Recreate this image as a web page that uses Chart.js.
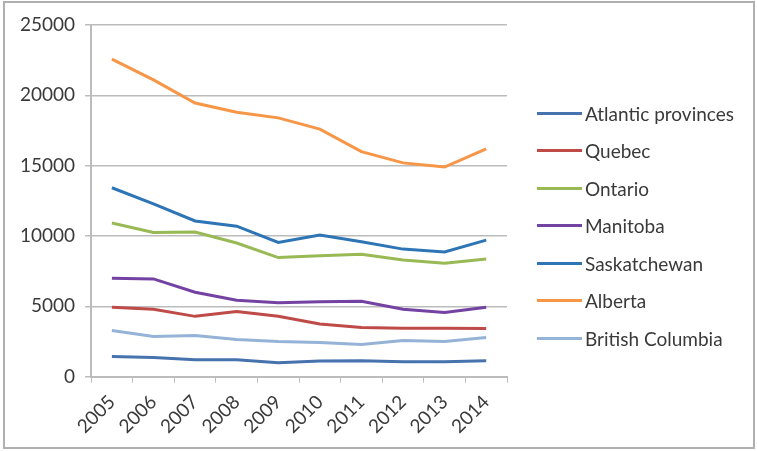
<!DOCTYPE html>
<html>
<head>
<meta charset="utf-8">
<script src="https://cdn.jsdelivr.net/npm/chart.js@4/dist/chart.umd.min.js"></script>
<style>
  html, body { margin: 0; padding: 0; background: #fff; }
  #wrap { position: relative; width: 757px; height: 451px; overflow: hidden; }
  #chart { position: absolute; left: 0; top: 0; }
  #frame {
    position: absolute; left: 3px; top: 1px; width: 748px; height: 444px;
    border: 2px solid #b0b0b0; pointer-events: none;
  }
  #legend { position: absolute; left: 537px; top: 0; font-family: Lato, sans-serif; font-size: 19px; color: #3a3a3a; }
  .item { position: absolute; left: 0; height: 20px; white-space: nowrap; display: flex; align-items: center; }
  .swatch { display: inline-block; width: 45px; height: 3px; margin-right: 3px; }
</style>
</head>
<body>
<div id="wrap">
  <canvas id="chart" width="757" height="451"></canvas>
  <div id="legend"></div>
  <div id="frame"></div>
</div>
<script>
const years = ['2005', '2006', '2007', '2008', '2009', '2010', '2011', '2012', '2013', '2014']
const regions = ['Atlantic provinces', 'Quebec', 'Ontario', 'Manitoba', 'Saskatchewan', 'Alberta', 'British Columbia']
const regionColors = ['#4672ae', '#be4b48', '#98b954', '#7442a2', '#2e75b6', '#f79646', '#95b3d7']

const atlantic = [1430, 1360, 1210, 1200, 1000, 1120, 1130, 1070, 1070, 1130]
const quebec = [4930, 4790, 4290, 4640, 4290, 3750, 3500, 3440, 3440, 3430]
const ontario = [10930, 10250, 10280, 9500, 8470, 8600, 8700, 8290, 8070, 8360]
const manitoba = [7000, 6950, 6000, 5430, 5250, 5330, 5360, 4790, 4570, 4930]
const saskatchewan = [13430, 12290, 11070, 10700, 9540, 10070, 9600, 9070, 8860, 9710]
const alberta = [22570, 21100, 19450, 18800, 18400, 17600, 16000, 15200, 14900, 16200]
const britishColumbia = [3290, 2860, 2930, 2640, 2500, 2430, 2290, 2570, 2500, 2790]

const seriesValues = [atlantic, quebec, ontario, manitoba, saskatchewan, alberta, britishColumbia]

const yMin = 0
const yMax = 25000
const yStep = 5000

const tickFont = { family: 'Lato, sans-serif', size: 19 }
const axisGray = '#bcbcbc'

function buildDatasets() {
  return regions.map((name, i) => ({
    label: name,
    data: seriesValues[i],
    borderColor: regionColors[i],
    backgroundColor: regionColors[i],
    borderWidth: 3,
    pointRadius: 0,
    tension: 0,
    fill: false
  }))
}

const chart = new Chart(document.getElementById('chart'), {
  type: 'line',
  data: { labels: years, datasets: buildDatasets() },
  options: {
    responsive: false,
    animation: false,
    layout: { padding: { top: 25, right: 250, bottom: 5, left: 10 } },
    plugins: { legend: { display: false }, tooltip: { enabled: false } },
    scales: {
      x: {
        offset: true,
        grid: { offset: true, drawOnChartArea: false, drawTicks: true, tickLength: 6, color: axisGray },
        border: { display: true, color: axisGray, width: 2 },
        ticks: { font: tickFont, color: '#3a3a3a', maxRotation: 45, minRotation: 45, padding: 8 }
      },
      y: {
        min: yMin,
        max: yMax,
        grid: { color: axisGray, lineWidth: 1.5, tickLength: 6 },
        border: { display: true, color: axisGray, width: 2 },
        ticks: { stepSize: yStep, font: tickFont, color: '#3a3a3a', padding: 10, callback: v => String(v) }
      }
    }
  }
})

// legend on the right, one row per dataset
function renderLegend() {
  const box = document.getElementById('legend')
  chart.data.datasets.forEach((ds, i) => {
    const row = document.createElement('div')
    row.className = 'item'
    row.style.top = `${113 + i * 37.5 - 10}px`
    const sw = document.createElement('span')
    sw.className = 'swatch'
    sw.style.background = ds.borderColor
    const txt = document.createElement('span')
    txt.textContent = ds.label
    row.appendChild(sw)
    row.appendChild(txt)
    box.appendChild(row)
  })
}

renderLegend()
</script>
</body>
</html>
